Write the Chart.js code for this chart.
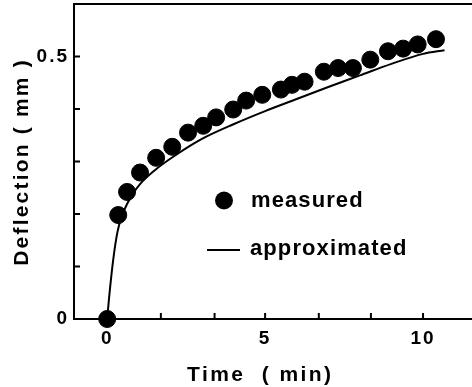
<!DOCTYPE html>
<html>
<head>
<meta charset="utf-8">
<script src="https://cdn.jsdelivr.net/npm/chart.js@4"></script>
<style>
  body { margin: 0; background: #fff; }
  #wrap { width: 472px; height: 387px; }
</style>
</head>
<body>
<div id="wrap"><canvas id="myChart" width="472" height="387"></canvas></div>
<script>
// values (time in min, deflection in mm)
const measuredTime = [0, 0.35, 0.63, 1.04, 1.55, 2.06, 2.56, 3.04, 3.45, 3.99, 4.40, 4.91, 5.50, 5.85, 6.25, 6.86, 7.31, 7.78, 8.33, 8.89, 9.37, 9.83, 10.41];
const measuredDefl = [0, 0.198, 0.242, 0.279, 0.307, 0.328, 0.355, 0.368, 0.384, 0.399, 0.416, 0.427, 0.437, 0.446, 0.452, 0.471, 0.478, 0.478, 0.494, 0.510, 0.515, 0.523, 0.533];

const approxTime = [0, 0.06, 0.19, 0.32, 0.47, 0.63, 0.82, 1.04, 1.5, 2.09, 3.0, 4.0, 5.0, 6.0, 7.0, 8.0, 9.0, 10.0, 10.68];
const approxDefl = [0, 0.040, 0.112, 0.164, 0.197, 0.219, 0.239, 0.257, 0.283, 0.309, 0.343, 0.371, 0.396, 0.419, 0.442, 0.464, 0.486, 0.505, 0.512];

const xTickValues = [0, 1.7, 3.4, 5, 6.7, 8.35, 10];
const xTickLabels = ["0", "", "", "5", "", "", "10"];
const yTickValues = [0, 0.1, 0.2, 0.3, 0.4, 0.5];
const yTickLabels = ["0", "", "", "", "", "0.5"];

const xTitle = "Time  ( min)";
const yTitle = "Deflection ( mm )";
const legendLabels = ["measured", "approximated"];

const FONT = "'Liberation Sans', Arial, sans-serif";

function toPoints(xs, ys) {
	return xs.map((x, i) => ({ x: x, y: ys[i] }));
}

function spacedText(ctx, text, x, y, size, spacing, align) {
	ctx.save();
	ctx.font = "bold " + size + "px " + FONT;
	ctx.letterSpacing = spacing + "px";
	ctx.fillStyle = "#000";
	ctx.textBaseline = "alphabetic";
	const w = ctx.measureText(text).width - spacing;
	let sx = x;
	if (align === "center") sx = x - w / 2;
	ctx.textAlign = "left";
	ctx.fillText(text, sx, y);
	ctx.restore();
}

function noPadding(scale) {
	scale.paddingTop = 0;
	scale.paddingBottom = 0;
	scale.paddingLeft = 0;
	scale.paddingRight = 0;
}

// inward ticks, top frame line, in-plot legend and axis titles
const decorations = {
	id: "decorations",
	beforeDraw(chart) {
		chart.ctx.letterSpacing = "2px";
	},
	afterDraw(chart) {
		const ctx = chart.ctx;
		const area = chart.chartArea;
		const xs = chart.scales.x;
		const ys = chart.scales.y;
		ctx.save();
		ctx.strokeStyle = "#000";
		ctx.lineWidth = 2;
		ctx.beginPath();
		xTickValues.forEach((v) => {
			const px = xs.getPixelForValue(v);
			ctx.moveTo(px, area.bottom);
			ctx.lineTo(px, area.bottom - 6);
		});
		yTickValues.forEach((v) => {
			const py = ys.getPixelForValue(v);
			ctx.moveTo(area.left, py);
			ctx.lineTo(area.left + 6, py);
		});
		ctx.moveTo(area.left - 1, area.top);
		ctx.lineTo(chart.width, area.top);
		ctx.stroke();

		// legend
		ctx.fillStyle = "#000";
		ctx.beginPath();
		ctx.arc(224, 200.5, 9, 0, Math.PI * 2);
		ctx.fill();
		ctx.beginPath();
		ctx.moveTo(207, 250);
		ctx.lineTo(240, 250);
		ctx.stroke();
		ctx.restore();

		spacedText(ctx, legendLabels[0], 251, 207, 22, 1.1, "left");
		spacedText(ctx, legendLabels[1], 250, 255, 22, 1.1, "left");

		spacedText(ctx, xTitle, 259, 381, 21, 2.4, "center");

		ctx.save();
		ctx.translate(28, 163);
		ctx.rotate(-Math.PI / 2);
		spacedText(ctx, yTitle, 0, 0, 21, 2.2, "center");
		ctx.restore();
	},
};

const ctx = document.getElementById("myChart").getContext("2d");
const myChart = new Chart(ctx, {
	type: "scatter",
	data: {
		datasets: [
			{
				label: legendLabels[0],
				data: toPoints(measuredTime, measuredDefl),
				backgroundColor: "#000",
				borderColor: "#000",
				pointRadius: 8.5,
				pointHoverRadius: 8.5,
				showLine: false,
				clip: false,
			},
			{
				label: legendLabels[1],
				data: toPoints(approxTime, approxDefl),
				borderColor: "#000",
				borderWidth: 2,
				pointRadius: 0,
				showLine: true,
				fill: false,
				cubicInterpolationMode: "monotone",
				clip: false,
			},
		],
	},
	options: {
		responsive: false,
		animation: false,
		layout: { autoPadding: false, padding: { top: 4, right: 0, left: 0, bottom: 0 } },
		plugins: {
			legend: { display: false },
			tooltip: { enabled: false },
		},
		scales: {
			x: {
				type: "linear",
				min: -1.05,
				max: 11.55,
				afterBuildTicks: (scale) => {
					scale.ticks = xTickValues.map((v) => ({ value: v }));
				},
				afterFit: (scale) => {
					scale.height = 68;
					noPadding(scale);
				},
				ticks: {
					autoSkip: false,
					maxRotation: 0,
					padding: 8,
					color: "#000",
					font: { family: FONT, size: 19, weight: "bold" },
					callback: (value, index) => xTickLabels[index],
				},
				grid: { display: true, drawOnChartArea: false, drawTicks: false, color: "rgba(0,0,0,0)" },
				border: { display: true, color: "#000", width: 2 },
			},
			y: {
				min: 0,
				max: 0.6,
				afterBuildTicks: (scale) => {
					scale.ticks = yTickValues.map((v) => ({ value: v }));
				},
				afterFit: (scale) => {
					scale.width = 74;
					noPadding(scale);
				},
				ticks: {
					autoSkip: false,
					padding: 5,
					color: "#000",
					font: { family: FONT, size: 19, weight: "bold" },
					callback: (value, index) => yTickLabels[index],
				},
				grid: { display: true, drawOnChartArea: false, drawTicks: false, color: "rgba(0,0,0,0)" },
				border: { display: true, color: "#000", width: 2 },
			},
		},
	},
	plugins: [decorations],
});
</script>
</body>
</html>
